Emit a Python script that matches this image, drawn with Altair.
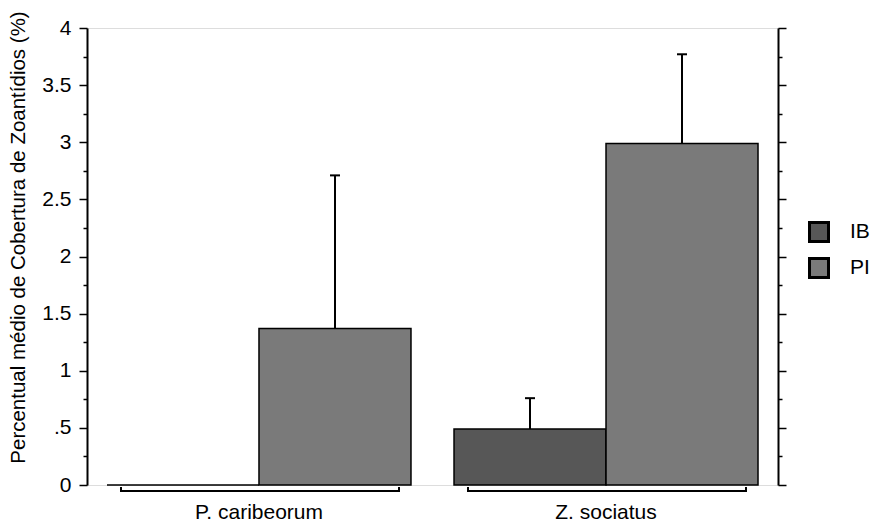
import altair as alt
import pandas as pd

# Mean cover of zoanthids by species and site, with upper error limits
species = ["P. caribeorum", "P. caribeorum", "Z. sociatus", "Z. sociatus"]
site = ["IB", "PI", "IB", "PI"]
mean_cover = [0.0, 1.37, 0.49, 2.99]
upper_limit = [None, 2.71, 0.76, 3.77]

site_order = ["IB", "PI"]
site_colors = ["#575757", "#7a7a7a"]
y_tick_values = [i * 0.25 for i in range(17)]

df = pd.DataFrame({"especie": species, "local": site, "media": mean_cover, "sup": upper_limit})

W, H = 691, 457
FONT = "Liberation Sans"
FS = 21

major = "abs(datum.value * 2 - round(datum.value * 2)) < 0.001"
tick_len = {"condition": {"test": major, "value": 8}, "value": 4}

x_scale = alt.Scale(paddingInner=0.124, paddingOuter=0.0576)
x_enc = alt.X(
    "especie:N", scale=x_scale,
    axis=alt.Axis(title=None, domain=False, ticks=False, labelAngle=0,
                  labelPadding=16, labelFontSize=FS, labelFont=FONT, labelColor="black"),
)
xoff = alt.XOffset("local:N", scale=alt.Scale(domain=site_order, paddingInner=0, paddingOuter=0))
y_scale = alt.Scale(domain=[0, 4], nice=False, zero=True)

bars = alt.Chart(df).mark_bar(stroke="black", strokeWidth=1.5, opacity=1).encode(
    x=x_enc,
    xOffset=xoff,
    y=alt.Y("media:Q", scale=y_scale, axis=alt.Axis(
        title="Percentual médio de Cobertura de Zoantídios (%)",
        titleFont=FONT, titleFontSize=20.5, titleFontWeight="normal", titleColor="black",
        titlePadding=13, titleY=209,
        values=y_tick_values, tickSize=tick_len, tickWidth=1.5, tickColor="black",
        labelExpr=f"{major} ? (datum.value == 0.5 ? '.5' : format(datum.value, '~g')) : ''",
        labelFont=FONT, labelFontSize=FS, labelColor="black", labelPadding=8,
        labelOverlap=False, domainColor="black", domainWidth=2, grid=False,
    )),
    color=alt.Color("local:N", scale=alt.Scale(domain=site_order, range=site_colors),
                    legend=alt.Legend(
                        title=None, orient="none", legendX=721, legendY=193,
                        symbolType="square", symbolSize=361, symbolStrokeColor="black",
                        symbolStrokeWidth=3, symbolOpacity=1, labelFont=FONT,
                        labelFontSize=FS, labelColor="black", labelOffset=20,
                        rowPadding=4, padding=0,
                    )),
)

# Upper error bars with small caps
valid = "isValid(datum.sup)"
err = alt.Chart(df).transform_filter(valid).mark_rule(color="black", strokeWidth=2).encode(
    x=x_enc, xOffset=xoff,
    y=alt.Y("media:Q", scale=y_scale, axis=None), y2="sup:Q",
)
caps = alt.Chart(df).transform_filter(valid).mark_tick(
    color="black", thickness=2, size=10, orient="horizontal", opacity=1
).encode(
    x=x_enc, xOffset=xoff,
    y=alt.Y("sup:Q", scale=y_scale, axis=None),
)

# Right-hand axis repeating the tick marks
right = alt.Chart(df).mark_point(opacity=0).encode(
    y=alt.Y("media:Q", scale=y_scale, axis=alt.Axis(
        orient="right", title=None, labels=False, values=y_tick_values,
        tickSize=tick_len, tickWidth=1.5, tickColor="black",
        domainColor="black", domainWidth=2, grid=False,
    )),
)

# Brackets under each species group
group_df = pd.DataFrame({"especie": ["P. caribeorum", "Z. sociatus"]})
bracket = alt.Chart(group_df).mark_tick(
    color="black", thickness=2, size=278, orient="horizontal", xOffset=1, opacity=1
).encode(x=x_enc, y=alt.value(H + 6))
bracket_l = alt.Chart(group_df).mark_tick(
    color="black", thickness=2, size=5, orient="vertical", xOffset=-138, opacity=1
).encode(x=x_enc, y=alt.value(H + 4.5))
bracket_r = alt.Chart(group_df).mark_tick(
    color="black", thickness=2, size=5, orient="vertical", xOffset=140, opacity=1
).encode(x=x_enc, y=alt.value(H + 4.5))

chart = alt.layer(bars, err, caps, right, bracket, bracket_l, bracket_r).resolve_axis(
    y="independent"
).properties(
    width=W, height=H,
    autosize=alt.AutoSizeParams(type="none"),
    padding={"left": 87, "top": 28, "right": 93, "bottom": 39},
).configure_view(stroke="black", strokeWidth=1.5).configure(background="white")

chart.save("out.html", embed_options={"renderer": "svg", "actions": False})
